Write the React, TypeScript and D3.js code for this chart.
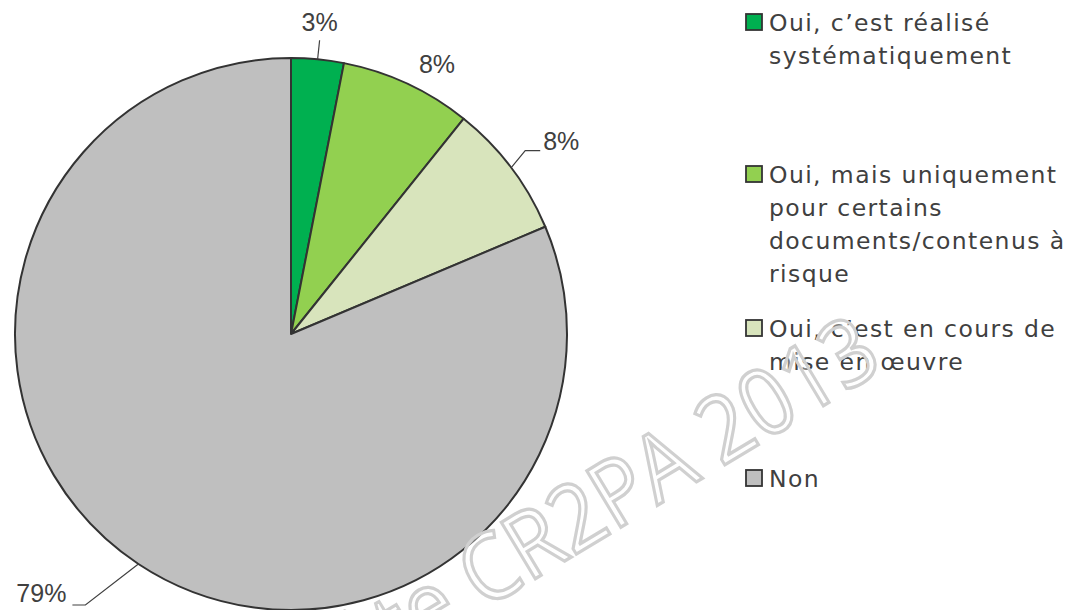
import React from 'react';
import * as d3 from 'd3';

const width = 1074;
const height = 610;

const categories = [
  'Oui, c’est réalisé systématiquement',
  'Oui, mais uniquement pour certains documents/contenus à risque',
  'Oui, c’est en cours de mise en œuvre',
  'Non',
];
// legend lines as they wrap in the picture
const legendLines = [
  ['Oui, c’est réalisé', 'systématiquement'],
  ['Oui, mais uniquement', 'pour certains', 'documents/contenus à', 'risque'],
  ['Oui, c’est en cours de', 'mise en œuvre'],
  ['Non'],
];
const values = [3.0, 7.5, 7.7, 79.4];
const colors = ['#00B050', '#92D050', '#D8E4BC', '#BFBFBF'];

// label placement (leader elbow offsets from the slice edge, text offsets)
const labelStyle = [
  { leader: [2, -19], tail: 0, dx: 0, dy: -9, anchor: 'middle' },
  { leader: null, tail: 0, dx: 18, dy: 15, anchor: 'middle' },
  { leader: [14, -17], tail: 15, dx: 3, dy: -1, anchor: 'start' },
  { leader: [-53, 41], tail: -13, dx: -6, dy: -3, anchor: 'end' },
];
const legendTop = [31, 183, 337, 487];

const cx = 291;
const cy = 334;
const radius = 276;
const textColor = '#404040';

const App = () => {
  const pie = d3.pie<number>().sort(null).value(d => d);
  const arcs = pie(values);
  const arc = d3.arc<d3.PieArcDatum<number>>().innerRadius(0).outerRadius(radius);
  const edge = d3.arc<d3.PieArcDatum<number>>().innerRadius(radius).outerRadius(radius);
  const outer = d3.arc<d3.PieArcDatum<number>>().innerRadius(radius + 28).outerRadius(radius + 28);
  const fmt = d3.format('.0f');

  return (
    <svg width={width} height={height} style={{ position: 'absolute', left: 0, top: 0, background: '#fff' }}>
      <g transform={`translate(${cx},${cy})`}>
        {arcs.map((a, i) => (
          <path key={categories[i]} d={arc(a) || ''} fill={colors[i]} stroke="#333" strokeWidth={2} strokeLinejoin="round" />
        ))}
        {arcs.map((a, i) => {
          const [ex, ey] = edge.centroid(a);
          const s = labelStyle[i];
          let tx = ex;
          let ty = ey;
          let pts: [number, number][] = [];
          if (s.leader) {
            const bx = ex + s.leader[0];
            const by = ey + s.leader[1];
            pts = [[ex, ey], [bx, by], [bx + s.tail, by]];
            tx = bx + s.tail;
            ty = by;
          } else {
            [tx, ty] = outer.centroid(a);
          }
          return (
            <g key={'lab' + i}>
              {pts.length > 0 && (
                <path d={d3.line()(pts) || ''} fill="none" stroke="#404040" strokeWidth={1.2} />
              )}
              <text
                x={tx + s.dx}
                y={ty + s.dy}
                textAnchor={s.anchor as any}
                fontFamily="Liberation Sans, Arial, sans-serif"
                fontSize={25}
                fill={textColor}
              >
                {fmt(values[i]) + '%'}
              </text>
            </g>
          );
        })}
      </g>

      <g>
        {legendLines.map((lines, i) => (
          <g key={'leg' + i}>
            <rect x={746} y={legendTop[i] - 17} width={16} height={16} fill={colors[i]} stroke="#333" strokeWidth={1.8} />
            {lines.map((ln, j) => (
              <text
                key={ln}
                x={769}
                y={legendTop[i] + j * 33}
                fontFamily="DejaVu Sans, sans-serif"
                fontSize={23.5}
                letterSpacing={1.4}
                fill={textColor}
              >
                {ln}
              </text>
            ))}
          </g>
        ))}
      </g>

      <text
        transform="translate(886,368) rotate(-31) scale(1,1.1)"
        textAnchor="end"
        fontFamily="Open Sans, sans-serif"
        fontSize={84}
        fill="#fff"
        fillOpacity={0.35}
        stroke="#d0d0d0"
        strokeWidth={3}
      >
        Enquête CR2PA 2013
      </text>
    </svg>
  );
};

export default App;
